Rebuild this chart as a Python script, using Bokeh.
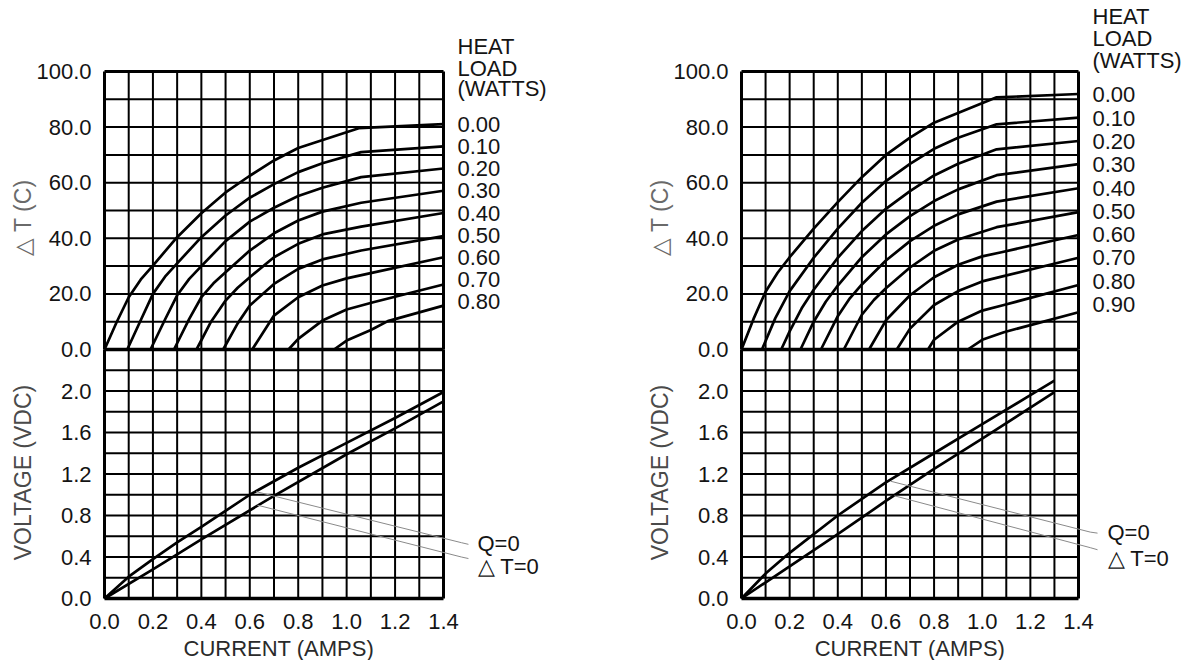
import math
from bokeh.plotting import figure
from bokeh.models import Range1d
from bokeh.layouts import row
from bokeh.embed import file_html
from bokeh.resources import INLINE
from bokeh.core.properties import value

# ---------------- ticks / grid ----------------
current_ticks = [0.0, 0.2, 0.4, 0.6, 0.8, 1.0, 1.2, 1.4]
current_tick_labels = ["0.0", "0.2", "0.4", "0.6", "0.8", "1.0", "1.2", "1.4"]
dt_ticks = [0.0, 20.0, 40.0, 60.0, 80.0, 100.0]
dt_tick_labels = ["0.0", "20.0", "40.0", "60.0", "80.0", "100.0"]
volt_ticks = [0.0, 0.4, 0.8, 1.2, 1.6, 2.0]
volt_tick_labels = ["0.0", "0.4", "0.8", "1.2", "1.6", "2.0"]
current_grid = [0.0, 0.1, 0.2, 0.3, 0.4, 0.5, 0.6, 0.7, 0.8, 0.9, 1.0, 1.1, 1.2, 1.3, 1.4]
dt_grid = [0, 10, 20, 30, 40, 50, 60, 70, 80, 90, 100]
volt_grid = [0.0, 0.2, 0.4, 0.6, 0.8, 1.0, 1.2, 1.4, 1.6, 1.8, 2.0, 2.2, 2.4]

header_lines = ["HEAT", "LOAD", "(WATTS)"]

# ---------------- left panel data ----------------
left_loads = ["0.00", "0.10", "0.20", "0.30", "0.40", "0.50", "0.60", "0.70", "0.80"]
left_dt_current = [
    [0.0, 0.05, 0.1, 0.15, 0.2, 0.3, 0.4, 0.5, 0.6, 0.7, 0.8, 1.05, 1.4],
    [0.094, 0.15, 0.2, 0.25, 0.3, 0.4, 0.5, 0.6, 0.7, 0.8, 0.9, 1.06, 1.4],
    [0.19, 0.25, 0.3, 0.35, 0.4, 0.5, 0.6, 0.7, 0.8, 0.9, 1.06, 1.4],
    [0.287, 0.35, 0.4, 0.45, 0.5, 0.6, 0.7, 0.8, 0.9, 1.06, 1.4],
    [0.38, 0.44, 0.5, 0.55, 0.6, 0.7, 0.8, 0.9, 1.06, 1.4],
    [0.49, 0.55, 0.6, 0.7, 0.8, 0.9, 1.06, 1.4],
    [0.61, 0.7, 0.8, 0.9, 1.0, 1.085, 1.4],
    [0.76, 0.8, 0.9, 1.0, 1.11, 1.4],
    [0.948, 1.0, 1.1, 1.17, 1.4],
]
left_dt = [
    [0, 9.8, 18.8, 25.2, 30.2, 40.4, 49.0, 56.5, 62.5, 68.0, 72.5, 79.6, 81.1],
    [0, 10.6, 20.0, 26.2, 31.0, 40.4, 48.2, 54.6, 59.5, 63.8, 67.0, 71.0, 73.1],
    [0, 10.8, 19.5, 25.4, 30.0, 39.0, 46.0, 51.0, 55.2, 58.2, 62.0, 65.1],
    [0, 11.0, 18.8, 23.8, 27.8, 35.6, 41.8, 46.4, 49.6, 52.8, 57.1],
    [0, 10.0, 17.6, 22.2, 26.0, 33.2, 38.0, 41.4, 44.2, 49.1],
    [0, 9.4, 15.8, 23.6, 29.0, 32.4, 35.6, 40.8],
    [0, 12.2, 18.8, 23.0, 25.6, 27.2, 33.2],
    [0, 3.8, 10.4, 14.4, 17.0, 23.4],
    [0, 3.2, 7.0, 10.2, 15.8],
]
left_vq0_current = [0.0, 0.1, 0.2, 0.3, 0.4, 0.6, 0.8, 1.0, 1.2, 1.4]
left_vq0 = [0.0, 0.21, 0.38, 0.54, 0.69, 1.0, 1.26, 1.5, 1.74, 1.99]
left_vdt0_current = [0.0, 0.2, 0.4, 0.7, 1.0, 1.2, 1.4]
left_vdt0 = [0.0, 0.28, 0.57, 0.99, 1.39, 1.64, 1.9]

# ---------------- right panel data ----------------
right_loads = ["0.00", "0.10", "0.20", "0.30", "0.40", "0.50", "0.60", "0.70", "0.80", "0.90"]
right_dt_current = [
    [0.0, 0.05, 0.1, 0.15, 0.2, 0.3, 0.4, 0.5, 0.6, 0.7, 0.8, 1.06, 1.4],
    [0.085, 0.14, 0.2, 0.3, 0.4, 0.5, 0.6, 0.7, 0.8, 0.9, 1.06, 1.4],
    [0.165, 0.2, 0.25, 0.3, 0.4, 0.5, 0.6, 0.7, 0.8, 0.9, 1.06, 1.4],
    [0.245, 0.3, 0.35, 0.4, 0.5, 0.6, 0.7, 0.8, 0.9, 1.06, 1.4],
    [0.33, 0.4, 0.45, 0.5, 0.6, 0.7, 0.8, 0.9, 1.06, 1.4],
    [0.425, 0.5, 0.55, 0.6, 0.7, 0.8, 0.9, 1.06, 1.4],
    [0.53, 0.6, 0.7, 0.8, 0.9, 1.0, 1.08, 1.4],
    [0.645, 0.7, 0.8, 0.9, 1.0, 1.08, 1.4],
    [0.775, 0.8, 0.9, 1.0, 1.09, 1.4],
    [0.94, 1.0, 1.09, 1.4],
]
right_dt = [
    [0, 11.0, 20.8, 27.6, 33.2, 43.5, 53.0, 62.0, 70.0, 76.2, 81.6, 90.7, 91.9],
    [0, 11.2, 21.0, 33.0, 43.5, 52.8, 60.6, 66.8, 72.2, 76.2, 81.0, 83.4],
    [0, 6.5, 14.8, 21.5, 33.0, 42.6, 50.6, 57.0, 62.6, 66.8, 72.0, 75.0],
    [0, 10.0, 17.2, 23.0, 33.2, 41.4, 48.0, 53.4, 57.6, 62.7, 66.7],
    [0, 12.0, 18.4, 23.4, 32.0, 39.0, 44.5, 48.6, 53.2, 58.0],
    [0, 12.5, 17.8, 22.0, 29.5, 35.5, 39.6, 44.0, 49.4],
    [0, 10.5, 19.5, 26.0, 30.5, 33.5, 35.0, 41.2],
    [0, 7.5, 16.0, 21.0, 24.5, 26.2, 33.0],
    [0, 3.5, 10.0, 14.0, 16.0, 23.2],
    [0, 3.5, 6.2, 13.4],
]
right_vq0_current = [0.0, 0.1, 0.2, 0.4, 0.6, 0.8, 1.0, 1.2, 1.3]
right_vq0 = [0.0, 0.24, 0.44, 0.8, 1.12, 1.4, 1.68, 1.96, 2.1]
right_vdt0_current = [0.0, 0.2, 0.4, 0.6, 0.8, 1.0, 1.2, 1.3]
right_vdt0 = [0.0, 0.31, 0.62, 0.94, 1.25, 1.54, 1.84, 1.99]

# ---------------- layout constants (page pixels) ----------------
W, H = 600, 660
PAGE_TOP = 0
DT0_Y, DT100_Y = 349.0, 71.0
V0_Y = 598.0
FONT = "Liberation Sans"
FS = "22px"
FS_TITLE = "23px"
TICK_COLOR = "#141414"


def make_panel(page_left, x0_px, x14_px, loads, load_top, load_step, header_y,
               dt_i, dt_v, vq_i, vq, vd_i, vd, leaders, leader_text_gap, title_x_center):
    sx = (x14_px - x0_px) / 1.4
    sv = (V0_Y - DT0_Y) / 2.4
    sd = (DT0_Y - DT100_Y) / 100.0
    page_bottom = PAGE_TOP + H
    p = figure(width=W, height=H,
               x_range=Range1d((page_left - x0_px) / sx, (page_left + W - x0_px) / sx),
               y_range=Range1d(-(page_bottom - V0_Y) / sv, (V0_Y - PAGE_TOP) / sv),
               x_axis_type=None, y_axis_type=None, toolbar_location=None,
               output_backend="svg", min_border=0, outline_line_color=None)
    p.extra_y_ranges = {"dt": Range1d(-(page_bottom - DT0_Y) / sd, (DT0_Y - PAGE_TOP) / sd)}
    p.background_fill_color = "white"
    p.border_fill_color = "white"

    xmin, xmax = current_grid[0], current_grid[-1]
    inner_x = current_grid[1:-1]
    # vertical grid lines
    p.segment(x0=inner_x, y0=[0.0] * len(inner_x), x1=inner_x, y1=[volt_grid[-1]] * len(inner_x),
              line_color="black", line_width=2)
    p.segment(x0=inner_x, y0=[0.0] * len(inner_x), x1=inner_x, y1=[dt_grid[-1]] * len(inner_x),
              line_color="black", line_width=2, y_range_name="dt")
    # horizontal grid lines
    inner_v = volt_grid[1:-1]
    p.segment(x0=[xmin] * len(inner_v), y0=inner_v, x1=[xmax] * len(inner_v), y1=inner_v,
              line_color="black", line_width=2)
    inner_d = dt_grid[1:-1]
    p.segment(x0=[xmin] * len(inner_d), y0=inner_d, x1=[xmax] * len(inner_d), y1=inner_d,
              line_color="black", line_width=2, y_range_name="dt")
    # borders
    p.segment(x0=[xmin, xmax], y0=[0.0, 0.0], x1=[xmin, xmax], y1=[volt_grid[-1]] * 2,
              line_color="black", line_width=3)
    p.segment(x0=[xmin, xmax], y0=[0.0, 0.0], x1=[xmin, xmax], y1=[dt_grid[-1]] * 2,
              line_color="black", line_width=3, y_range_name="dt")
    p.segment(x0=[xmin, xmin], y0=[0.0, volt_grid[-1]], x1=[xmax, xmax], y1=[0.0, volt_grid[-1]],
              line_color="black", line_width=3.5)
    p.segment(x0=[xmin], y0=[dt_grid[-1]], x1=[xmax], y1=[dt_grid[-1]],
              line_color="black", line_width=3, y_range_name="dt")

    # delta-T curves
    p.multi_line(xs=dt_i, ys=dt_v, line_color="black", line_width=2.7,
                 line_join="round", y_range_name="dt")
    # voltage curves
    p.line(vq_i, vq, line_color="black", line_width=2.7, line_join="round")
    p.line(vd_i, vd, line_color="black", line_width=2.7, line_join="round")

    # leader lines + labels
    for lx, ly, txt, ty in leaders:
        p.line(lx, ly, line_color="#8a8a8a", line_width=1)
        p.text(x=[xmax + leader_text_gap / sx], y=[ty], text=[txt],
               text_font=value(FONT), text_font_size=value(FS), text_color=TICK_COLOR,
               text_align="left", text_baseline="middle")

    # tick labels
    lab_x = -13.0 / sx
    p.text(x=[lab_x] * len(dt_ticks), y=dt_ticks, text=dt_tick_labels,
           text_font=value(FONT), text_font_size=value(FS), text_color=TICK_COLOR,
           text_align="right", text_baseline="middle", y_range_name="dt")
    p.text(x=[lab_x] * len(volt_ticks), y=volt_ticks, text=volt_tick_labels,
           text_font=value(FONT), text_font_size=value(FS), text_color=TICK_COLOR,
           text_align="right", text_baseline="middle")
    p.text(x=current_ticks, y=[-23.0 / sv] * len(current_ticks), text=current_tick_labels,
           text_font=value(FONT), text_font_size=value(FS), text_color=TICK_COLOR,
           text_align="center", text_baseline="middle")

    # axis titles
    p.text(x=[title_x_center], y=[-50.0 / sv], text=["CURRENT (AMPS)"],
           text_font=value(FONT), text_font_size=value(FS), text_color="#2a2a2a",
           text_align="center", text_baseline="middle")
    p.text(x=[-82.0 / sx], y=[(DT0_Y - 217.0) / sd], text=["\u25b3 T (C)"], angle=math.pi / 2,
           text_font=value(FONT), text_font_size=value(FS_TITLE), text_color="#6a6a6a",
           text_align="center", text_baseline="middle", y_range_name="dt")
    p.text(x=[-82.0 / sx], y=[(V0_Y - 472.0) / sv], text=["VOLTAGE (VDC)"], angle=math.pi / 2,
           text_font=value(FONT), text_font_size=value(FS_TITLE), text_color="#4a4a4a",
           text_align="center", text_baseline="middle")

    # heat load legend
    hx = xmax + 14.0 / sx
    p.text(x=[hx] * len(header_lines), y=header_y, text=header_lines,
           text_font=value(FONT), text_font_size=value(FS), text_color=TICK_COLOR,
           text_align="left", text_baseline="middle", y_range_name="dt")
    load_y = [load_top - k * load_step for k in range(len(loads))]
    p.text(x=[hx] * len(loads), y=load_y, text=loads,
           text_font=value(FONT), text_font_size=value(FS), text_color=TICK_COLOR,
           text_align="left", text_baseline="middle", y_range_name="dt")
    return p


left_leaders = [
    ([0.626, 1.474, 1.503], [1.03, 0.538, 0.522], "Q=0", 0.53),
    ([0.631, 1.474, 1.503], [0.90, 0.400, 0.385], "\u25b3 T=0", 0.31),
]
right_leaders = [
    ([0.62, 1.449, 1.479], [1.13, 0.64, 0.63], "Q=0", 0.636),
    ([0.635, 1.449, 1.479], [0.99, 0.49, 0.47], "\u25b3 T=0", 0.386),
]

p_left = make_panel(0, 104.0, 443.0, left_loads, 81.1, 8.0, [108.9, 101.2, 93.8],
                    left_dt_current, left_dt, left_vq0_current, left_vq0,
                    left_vdt0_current, left_vdt0, left_leaders, 34.0, 0.72)
p_right = make_panel(600, 741.0, 1078.0, right_loads, 91.6, 8.38, [119.9, 111.8, 104.0],
                     right_dt_current, right_dt, right_vq0_current, right_vq0,
                     right_vdt0_current, right_vdt0, right_leaders, 29.0, 0.70)

layout = row(p_left, p_right)
open("out.html", "w").write(file_html(layout, INLINE))
